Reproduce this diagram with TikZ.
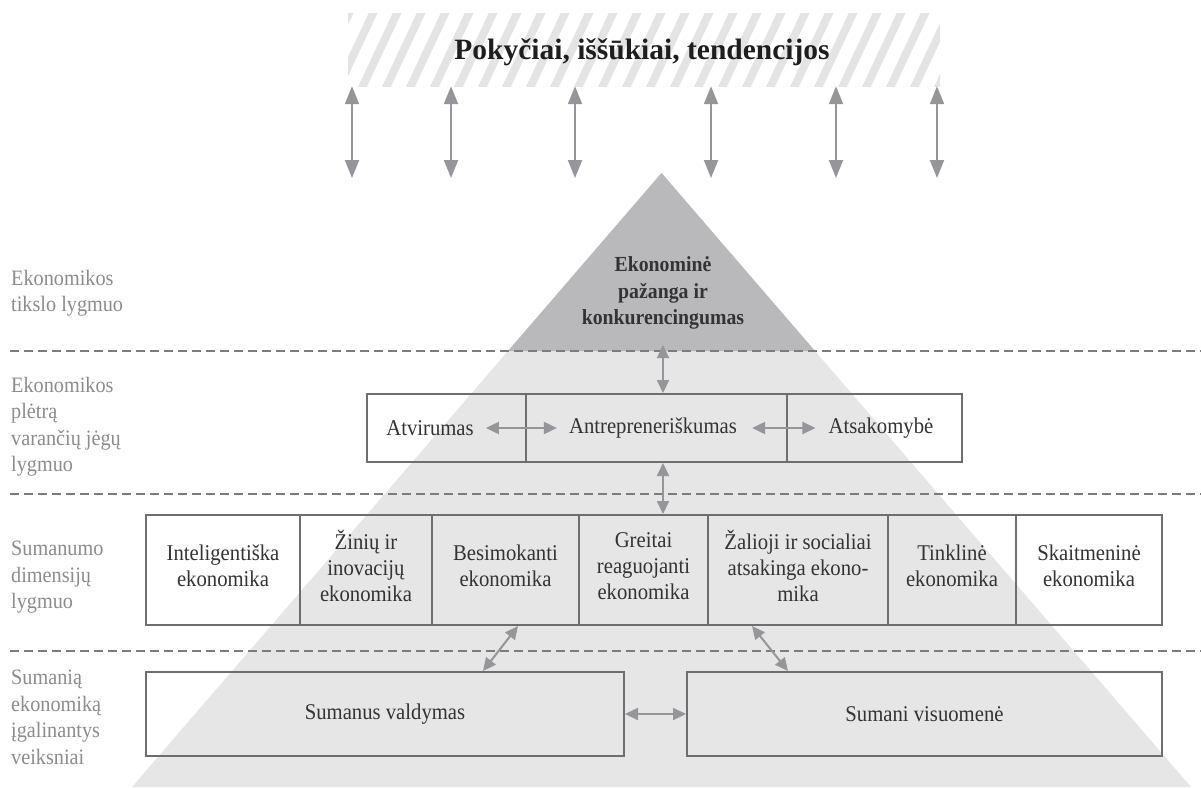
\documentclass[tikz,border=0pt]{standalone}
\usepackage{fontspec}
\setmainfont{Liberation Serif}
\newfontfamily\narrowserif{Liberation Serif}[FakeStretch=0.92]
\usetikzlibrary{arrows.meta}

\definecolor{pyrlight}{HTML}{E6E6E6}
\definecolor{pyrdark}{HTML}{B9B9BC}
\definecolor{hatchcol}{HTML}{E4E4E4}
\definecolor{boxcol}{HTML}{6E6E6E}
\definecolor{dashcol}{HTML}{7C7C7C}
\definecolor{arrcol}{HTML}{95959A}
\definecolor{labcol}{HTML}{8C8C8C}
\definecolor{txtcol}{HTML}{333333}
\definecolor{titlecol}{HTML}{1E1E1E}

\tikzset{
  cellbox/.style={draw=boxcol, line width=2pt, inner sep=0pt, minimum height=#1},
  boxfont/.style={font=\narrowserif\fontsize{22.5}{26}\selectfont, text=txtcol},
  boxtext/.style={boxfont, align=center, inner sep=2pt},
  sidelabel/.style={font=\narrowserif\fontsize{22}{26.5}\selectfont, text=labcol, align=left,
    anchor=north west, inner sep=0pt},
  goaltext/.style={font=\narrowserif\bfseries\fontsize{21.5}{26.5}\selectfont, text=txtcol, align=center},
  titletext/.style={font=\bfseries\fontsize{29.5}{34}\selectfont, text=titlecol},
  sepline/.style={draw=dashcol, line width=2.2pt, dash pattern=on 9pt off 5pt},
  arr/.style={draw=arrcol, line width=2pt,
    {Triangle[width=12pt,length=13pt]}-{Triangle[width=12pt,length=13pt]}},
  bigarr/.style={draw=arrcol, line width=2pt,
    {Triangle[width=14pt,length=18pt]}-{Triangle[width=14pt,length=18pt]}},
  hatchband/.style={minimum width=592pt, minimum height=73pt, inner sep=0pt,
    path picture={
      \foreach \k in {-14,...,14}
        \draw[hatchcol, line width=8pt]
          ([xshift=\k*24pt]path picture bounding box.south) ++(-20,6) -- ++(40,-85);
    }},
}

\begin{document}
\begin{tikzpicture}[x=1pt,y=-1pt]
\useasboundingbox (0,0) rectangle (1201,787);

% pyramid: light body and dark top
\begin{scope}
  \clip (0,0) rectangle (1201,787);
  \fill[pyrlight] (661.5,173) -- (132,787) -- (1191,787) -- cycle;
  \fill[pyrdark] (661.5,173) -- (508,351) -- (815,351) -- cycle;
\end{scope}

% hatched band with the heading
\node[hatchband] (band) at (644,49.5) {};
\node[titletext] (trend) at (642,52) {Pokyčiai, iššūkiai, tendencijos};

% arrows between the band and the pyramid
\foreach \xa [count=\i] in {352,451,575,711,836,937} {
  \coordinate (tb\i) at (\xa,178);
  \draw[bigarr] (band.south -| tb\i) -- (tb\i);
}

% level separators
\draw[sepline] (10,351) -- (1201,351);
\draw[sepline] (10,494) -- (1201,494);
\draw[sepline] (10,651) -- (1201,651);

% level labels
\node[sidelabel] (lab1) at (11,270) {Ekonomikos\\tikslo lygmuo};
\node[sidelabel] (lab2) at (11,377) {Ekonomikos\\plėtrą\\varančių jėgų\\lygmuo};
\node[sidelabel] (lab3) at (11,541) {Sumanumo\\dimensijų\\lygmuo};
\node[sidelabel] (lab4) at (11,670) {Sumanią\\ekonomiką\\įgalinantys\\veiksniai};

% goal at the top of the pyramid
\node[goaltext] (goal) at (663,293) {Ekonominė\\pažanga ir\\konkurencingumas};

% driving forces
\node[cellbox=68pt, minimum width=159pt] (atv) at (446.5,428) {};
\node[cellbox=68pt, minimum width=261pt] (ant) at (656.5,428) {};
\node[cellbox=68pt, minimum width=175pt] (ats) at (874.5,428) {};
\node[boxtext] (atvt) at (430,428) {Atvirumas};
\node[boxtext] (antt) at (653,428) {Antrepreneriškumas};
\node[boxtext] (atst) at (881,428) {Atsakomybė};
\draw[arr, shorten <=10pt, shorten >=10pt] (atvt) -- (antt);
\draw[arr, shorten <=13pt, shorten >=11pt] (antt) -- (atst);

% smartness dimensions: cells and their texts
\foreach \name/\cx/\w in {r1/223/154, r2/366/132, r3/505.5/147, r4/643.5/129,
                          r5/798/180, r6/952/128, r7/1089/146}
  \node[cellbox=110pt, minimum width=\w pt] (\name) at (\cx,570) {};
\node[boxtext] (t1) at ([yshift=4pt]r1.center) {Inteligentiška\\ekonomika};
\node[boxtext] (t2) at ([yshift=4pt]r2.center) {Žinių ir\\inovacijų\\ekonomika};
\node[boxtext] (t3) at ([yshift=4pt]r3.center) {Besimokanti\\ekonomika};
\node[boxtext] (t4) at ([yshift=4pt]r4.center) {Greitai\\reaguojanti\\ekonomika};
\node[boxtext] (t5) at ([yshift=4pt]r5.center) {Žalioji ir socialiai\\atsakinga ekono-\\mika};
\node[boxtext] (t6) at ([yshift=4pt]r6.center) {Tinklinė\\ekonomika};
\node[boxtext] (t7) at ([yshift=4pt]r7.center) {Skaitmeninė\\ekonomika};

% enablers
\node[cellbox=84pt, minimum width=478pt, boxfont] (gov) at (385,714) {Sumanus valdymas};
\node[cellbox=84pt, minimum width=475pt, boxfont] (soc) at (924.5,714) {Sumani visuomenė};

% vertical links through the levels
\coordinate (gtip) at (663,345);
\draw[arr] (gtip) -- (gtip |- ant.north);
\draw[arr] (ant.south -| gtip) -- (gtip |- r4.north);

% links from the dimensions to the enablers
\coordinate (dlu) at (518,0);
\coordinate (dld) at (483,0);
\coordinate (dru) at (752,0);
\coordinate (drd) at (788,0);
\draw[arr] (r3.south -| dlu) -- (gov.north -| dld);
\draw[arr] (r5.south -| dru) -- (soc.north -| drd);
\draw[arr] (gov) -- (soc);
\end{tikzpicture}
\end{document}
